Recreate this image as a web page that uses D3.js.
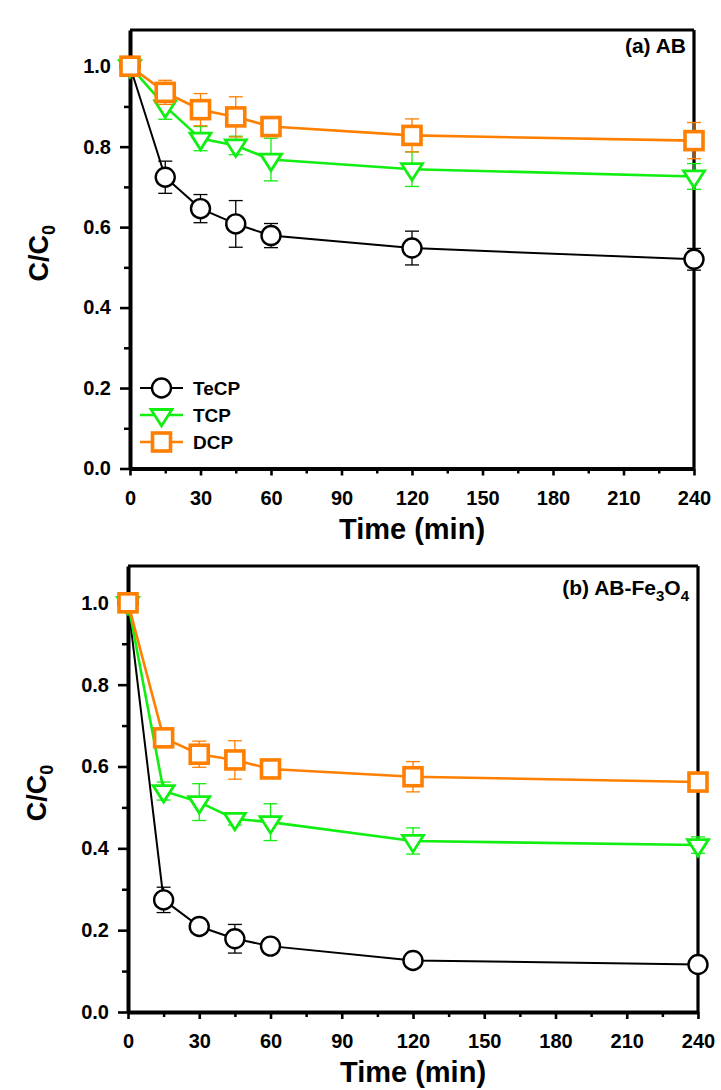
<!DOCTYPE html>
<html>
<head>
<meta charset="utf-8">
<script src="https://cdn.jsdelivr.net/npm/d3@7"></script>
<style>
  html, body { margin: 0; padding: 0; background: #fff; }
  svg text { font-family: "Liberation Sans", Arial, sans-serif; font-weight: bold; }
</style>
</head>
<body>
<svg id="chart" width="721" height="1090"></svg>
<script>
// ---------------- data ----------------
const time = [0, 15, 30, 45, 60, 120, 240];
const seriesNames = ["TeCP", "TCP", "DCP"];
const xTicks = [0, 30, 60, 90, 120, 150, 180, 210, 240];
const xMinorTicks = [15, 45, 75, 105, 135, 165, 195, 225];
const yTicks = [0.0, 0.2, 0.4, 0.6, 0.8, 1.0];
const yMinorTicks = [0.1, 0.3, 0.5, 0.7, 0.9];

// panel (a) AB
const abTeCP = [1.0, 0.724, 0.646, 0.608, 0.579, 0.548, 0.520];
const abTeCPErr = [0, 0.040, 0.035, 0.058, 0.030, 0.042, 0.027];
const abTCP = [1.0, 0.900, 0.820, 0.803, 0.768, 0.744, 0.726];
const abTCPErr = [0, 0.032, 0.030, 0.023, 0.053, 0.043, 0.032];
const abDCP = [1.0, 0.935, 0.892, 0.874, 0.850, 0.828, 0.815];
const abDCPErr = [0, 0.030, 0.040, 0.050, 0, 0.041, 0.045];

// panel (b) AB-Fe3O4
const feTeCP = [1.0, 0.274, 0.209, 0.179, 0.161, 0.126, 0.116];
const feTeCPErr = [0, 0.031, 0, 0.035, 0, 0, 0];
const feTCP = [1.0, 0.540, 0.513, 0.472, 0.464, 0.418, 0.408];
const feTCPErr = [0, 0.022, 0.045, 0.015, 0.045, 0.032, 0.020];
const feDCP = [1.0, 0.670, 0.630, 0.616, 0.594, 0.575, 0.562];
const feDCPErr = [0, 0, 0.032, 0.047, 0, 0.037, 0];

// ---------------- styles ----------------
const colors = { TeCP: "#000000", TCP: "#11ee11", DCP: "#ff7f00" };
const lineW = { TeCP: 2, TCP: 2.6, DCP: 2.6 };

const svg = d3.select("#chart");

function marker(g, name, cx, cy) {
  const c = colors[name];
  if (name === "TeCP") {
    g.append("circle").attr("cx", cx).attr("cy", cy).attr("r", 9.5)
      .attr("fill", "#fff").attr("stroke", c).attr("stroke-width", 2.4);
  } else if (name === "TCP") {
    const w = 21, h = 16.5;
    const p = d3.path();
    p.moveTo(-w / 2, -h / 3); p.lineTo(w / 2, -h / 3); p.lineTo(0, 2 * h / 3); p.closePath();
    g.append("path").attr("d", p.toString())
      .attr("transform", `translate(${cx},${cy})`)
      .attr("fill", "#fff").attr("stroke", c).attr("stroke-width", 2.8)
      .attr("stroke-linejoin", "miter");
  } else {
    g.append("rect").attr("x", cx - 9).attr("y", cy - 9)
      .attr("width", 18).attr("height", 18)
      .attr("fill", "#fff").attr("stroke", c).attr("stroke-width", 3.6);
  }
}

function drawPanel(cfg) {
  const x = d3.scaleLinear().domain([0, 240]).range([cfg.left, cfg.right]);
  const y = d3.scaleLinear().domain([0, 1.09]).range([cfg.bottom, cfg.top]);
  const g = svg.append("g");

  // frame top & right
  g.append("line").attr("x1", cfg.left).attr("x2", cfg.right)
    .attr("y1", cfg.top).attr("y2", cfg.top)
    .attr("stroke", "#000").attr("stroke-width", 3.2);
  g.append("line").attr("x1", cfg.right).attr("x2", cfg.right)
    .attr("y1", cfg.top).attr("y2", cfg.bottom)
    .attr("stroke", "#000").attr("stroke-width", 3.2);

  // minor ticks
  g.append("g").attr("transform", `translate(0,${cfg.bottom})`)
    .call(d3.axisBottom(x).tickValues(xMinorTicks).tickSize(5).tickFormat(""))
    .call(a => a.select(".domain").remove())
    .call(a => a.selectAll("line").attr("stroke-width", 2.5));
  g.append("g").attr("transform", `translate(${cfg.left},0)`)
    .call(d3.axisLeft(y).tickValues(yMinorTicks).tickSize(6).tickFormat(""))
    .call(a => a.select(".domain").remove())
    .call(a => a.selectAll("line").attr("stroke-width", 2.5));

  // major axes
  const xa = g.append("g").attr("transform", `translate(0,${cfg.bottom})`)
    .call(d3.axisBottom(x).tickValues(xTicks).tickSize(7).tickSizeOuter(0).tickPadding(15));
  const ya = g.append("g").attr("transform", `translate(${cfg.left},0)`)
    .call(d3.axisLeft(y).tickValues(yTicks).tickSize(10).tickSizeOuter(0).tickPadding(9)
      .tickFormat(d3.format(".1f")));
  [xa, ya].forEach(a => {
    a.select(".domain").attr("stroke-width", 4);
    a.selectAll(".tick line").attr("stroke-width", 2.6);
    a.selectAll("text").attr("font-size", 20).attr("fill", "#000")
      .style("font-family", "'Liberation Sans', Arial, sans-serif").style("font-weight", "bold");
  });

  // axis titles
  g.append("text").attr("x", (cfg.left + cfg.right) / 2).attr("y", cfg.bottom + 70)
    .attr("text-anchor", "middle").attr("font-size", 29).text("Time (min)");
  const yl = g.append("text")
    .attr("transform", `translate(${cfg.left - 82},${(cfg.top + cfg.bottom) / 2 + 4}) rotate(-90)`)
    .attr("text-anchor", "middle").attr("font-size", 27);
  yl.append("tspan").text("C/C");
  yl.append("tspan").attr("font-size", 18).attr("dy", 7).text("0");

  // panel label
  const pl = g.append("text").attr("x", cfg.labelX).attr("y", cfg.labelY)
    .attr("text-anchor", "end").attr("font-size", 21);
  cfg.label.forEach(p => {
    const t = pl.append("tspan").text(p.t);
    if (p.sub) t.attr("font-size", 15).attr("dy", 6);
    else if (p.up) t.attr("dy", -6);
  });

  // series
  const line = d3.line().x(d => x(d.t)).y(d => y(d.v));
  cfg.series.forEach(s => {
    const pts = time.map((t, i) => ({ t, v: s.values[i], e: s.err[i] }));
    const c = colors[s.name];
    const sg = g.append("g");
    // error bars
    pts.filter(d => d.e > 0).forEach(d => {
      const cx = x(d.t);
      sg.append("line").attr("x1", cx).attr("x2", cx)
        .attr("y1", y(d.v - d.e)).attr("y2", y(d.v + d.e))
        .attr("stroke", c).attr("stroke-width", 1.3);
      [d.v - d.e, d.v + d.e].forEach(v => {
        sg.append("line").attr("x1", cx - 7).attr("x2", cx + 7)
          .attr("y1", y(v)).attr("y2", y(v))
          .attr("stroke", c).attr("stroke-width", 1.3);
      });
    });
    sg.append("path").datum(pts).attr("d", line)
      .attr("fill", "none").attr("stroke", c).attr("stroke-width", lineW[s.name]);
    pts.forEach(d => marker(sg, s.name, x(d.t), y(d.v)));
  });

  // legend
  if (cfg.legend) {
    seriesNames.forEach((n, i) => {
      const ly = cfg.legend.y + i * cfg.legend.dy;
      g.append("line").attr("x1", cfg.legend.x).attr("x2", cfg.legend.x + 43)
        .attr("y1", ly).attr("y2", ly)
        .attr("stroke", colors[n]).attr("stroke-width", lineW[n]);
      marker(g, n, cfg.legend.x + 21.5, ly);
      g.append("text").attr("x", cfg.legend.x + 53).attr("y", ly + 7)
        .attr("font-size", 19).text(n);
    });
  }
}

drawPanel({
  left: 130, right: 694, top: 30, bottom: 468.5,
  labelX: 686, labelY: 53,
  label: [{ t: "(a) AB" }],
  legend: { x: 140, y: 388, dy: 27 },
  series: [
    { name: "TeCP", values: abTeCP, err: abTeCPErr },
    { name: "TCP", values: abTCP, err: abTCPErr },
    { name: "DCP", values: abDCP, err: abDCPErr }
  ]
});

drawPanel({
  left: 128, right: 698, top: 566, bottom: 1012,
  labelX: 689, labelY: 595,
  label: [{ t: "(b) AB-Fe" }, { t: "3", sub: true }, { t: "O", up: true }, { t: "4", sub: true }],
  legend: null,
  series: [
    { name: "TeCP", values: feTeCP, err: feTeCPErr },
    { name: "TCP", values: feTCP, err: feTCPErr },
    { name: "DCP", values: feDCP, err: feDCPErr }
  ]
});
</script>
</body>
</html>
